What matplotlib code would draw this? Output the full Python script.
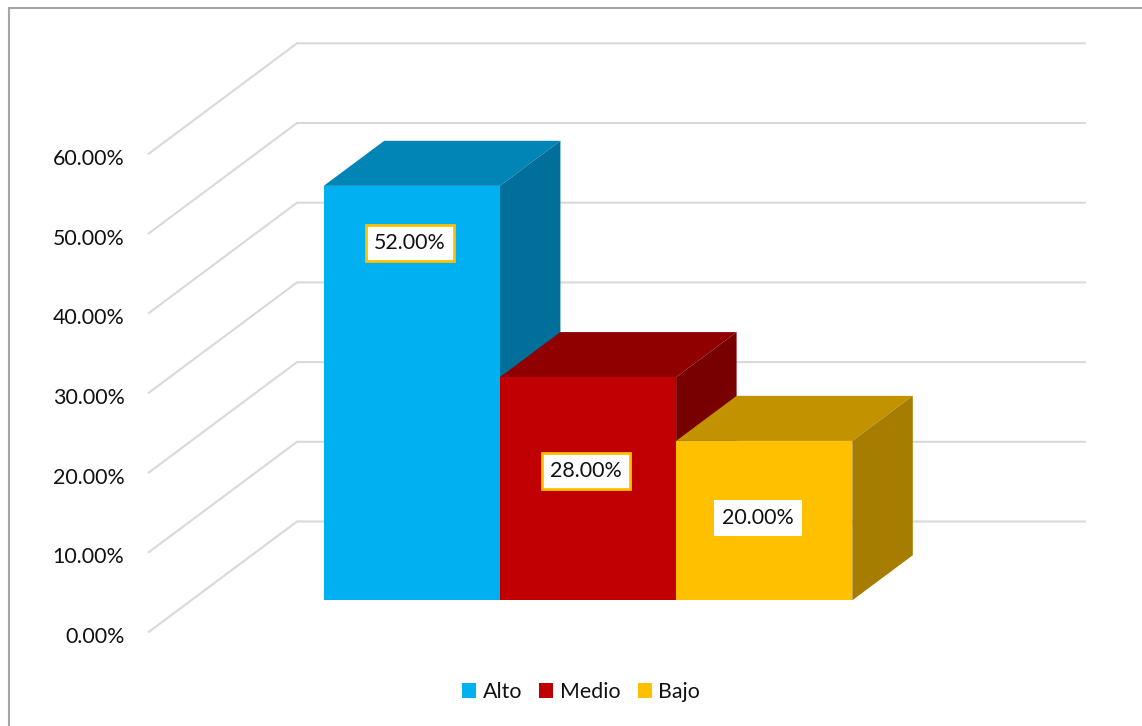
import matplotlib.pyplot as plt
from matplotlib.patches import Rectangle

plt.rcParams['font.family'] = ['Lato', 'DejaVu Sans']

categories = ['Alto', 'Medio', 'Bajo']
values = [52.0, 28.0, 20.0]
yticks = [0, 10, 20, 30, 40, 50, 60]

front_colors = ['#00B0F0', '#C00000', '#FFC000']
top_colors = ['#0085B6', '#910000', '#C29200']
side_colors = ['#006F9A', '#790000', '#A67D00']

# label box centres in pixels, and their edge colours
label_pos = [(410, 242), (586, 470), (758, 517)]
label_edges = ['#FFC000', '#FFC000', 'none']

W, H = 1142, 726
X0, Y0 = 148, 632.5    # front left corner of the floor
UNIT = 176.2           # pixels per category
PCT = 7.97             # pixels per percentage point
DX, DY = 149, 111      # full depth of the chart box
GAP = 0.752
D_FRONT, D_BACK = 0.29, 0.696
FONT = 15.4

fig = plt.figure(figsize=(W / 100, H / 100), dpi=100)
ax = fig.add_axes([0, 0, 1, 1])
ax.set_xlim(-X0 / UNIT, (W - X0) / UNIT)
ax.set_ylim((Y0 - H) / PCT, Y0 / PCT)
ax.axis('off')


# oblique projection: x in categories, v in percent, d is depth 0..1
def proj(x, v, d):
    return x + d * DX / UNIT, v + d * DY / PCT


def face(corners, color, **kw):
    xs, ys = zip(*[proj(*c) for c in corners])
    return ax.fill(xs, ys, color=color, lw=0, zorder=3, **kw)[0]


# outer chart frame, only the top and left edges are in view
ax.add_patch(Rectangle((9 / W, -0.1), 1.2, 0.1 + (H - 8) / H, transform=ax.transAxes,
                       fc='none', ec='#A6A6A6', lw=1.5, clip_on=False))

# walls and gridlines
x_end = 4.477
for t in yticks:
    xs, ys = zip(proj(0, t, 0), proj(0, t, 1), proj(x_end, t, 1))
    ax.plot(xs, ys, color='#D9D9D9', lw=1.5, solid_joinstyle='miter', solid_capstyle='butt', zorder=2)
    ax.text(124.5 / UNIT - X0 / UNIT, t - 4.5 / PCT, f'{t:.2f}%', ha='right', va='center',
            fontsize=FONT, color='#111111')

# bars from left to right so each one overlaps the side of the previous
handles = []
for i, v in enumerate(values):
    x1, x2 = GAP + i, GAP + i + 1
    face([(x1, v, D_FRONT), (x2, v, D_FRONT), (x2, v, D_BACK), (x1, v, D_BACK)], top_colors[i])
    face([(x2, 0, D_FRONT), (x2, v, D_FRONT), (x2, v, D_BACK), (x2, 0, D_BACK)], side_colors[i])
    handles.append(face([(x1, 0, D_FRONT), (x2, 0, D_FRONT), (x2, v, D_FRONT), (x1, v, D_FRONT)],
                        front_colors[i], label=categories[i]))

# value labels in boxes
for v, (px, py), ec in zip(values, label_pos, label_edges):
    ax.text(px / W, 1 - (py + 1) / H, f'{v:.2f}%', transform=ax.transAxes, ha='center', va='center',
            fontsize=FONT, color='#111111', zorder=5,
            bbox=dict(boxstyle='square,pad=0.36', fc='white', ec=ec, lw=2))

fig.legend(handles=handles, loc='center', bbox_to_anchor=(581 / W, 1 - 692 / H), ncol=3,
           frameon=False, fontsize=FONT, handlelength=0.66, handleheight=0.66,
           handletextpad=0.3, columnspacing=0.8, labelcolor='#111111')

fig.savefig('out.png', dpi=100)
